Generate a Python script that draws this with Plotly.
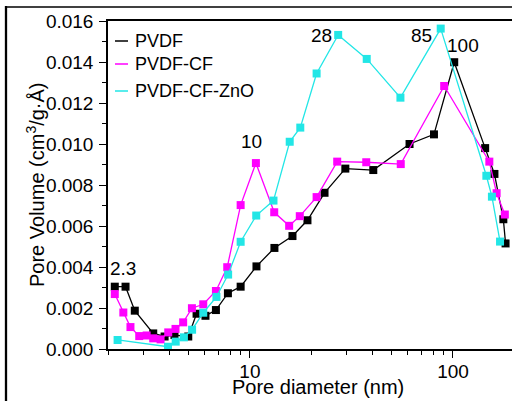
import math
import plotly.graph_objects as go

# ---- data ----
pvdf_d = [2.16, 2.44, 2.71, 3.34, 3.8, 4.25, 4.97, 5.46, 6.04, 6.8, 7.79, 9.0, 10.77, 13.2, 16.2,
          19.2, 23.3, 29.5, 40.5, 61.1, 80.6, 101.4, 144, 160, 177, 181.5]
pvdf_v = [0.00304, 0.00304, 0.00187, 0.00076, 0.00061, 0.00068, 0.00061, 0.00172, 0.00162, 0.00190,
          0.00272, 0.00304, 0.00403, 0.00493, 0.00551, 0.00628, 0.00762, 0.00880, 0.00873, 0.01000,
          0.01047, 0.01399, 0.00980, 0.00854, 0.00633, 0.00515]

cf_d = [2.16, 2.38, 2.58, 2.85, 3.10, 3.34, 3.63, 3.96, 4.30, 4.69, 5.18, 5.89, 6.80, 7.73, 9.0,
        10.7, 13.17, 15.6, 17.6, 21.3, 26.9, 37.4, 55.3, 90.5, 151, 164, 180]
cf_v = [0.00268, 0.00178, 0.00107, 0.00063, 0.00066, 0.00052, 0.00047, 0.00081, 0.00098, 0.00130,
        0.00199, 0.00218, 0.00283, 0.00399, 0.00702, 0.00907, 0.00667, 0.00601, 0.00648, 0.00741,
        0.00914, 0.00911, 0.00902, 0.01283, 0.00914, 0.00760, 0.00656]

zno_d = [2.23, 3.95, 4.31, 4.73, 5.19, 5.89, 6.84, 7.81, 9.0, 10.74, 13.06, 15.7, 17.7, 21.3, 27.2,
         37.6, 55.1, 87.0, 146, 155.5, 170.5]
zno_v = [0.00044, 0.00011, 0.00036, 0.00057, 0.00094, 0.00177, 0.00254, 0.00363, 0.00523, 0.00651,
         0.00724, 0.01011, 0.01080, 0.01344, 0.01532, 0.01415, 0.01226, 0.01563, 0.00845, 0.00743,
         0.00524]

series_names = ["PVDF", "PVDF-CF", "PVDF-CF-ZnO"]
series_colors = ["#000000", "#FF00FF", "#22E6E6"]

peak_labels = ["2.3", "10", "28", "85", "100"]
peak_label_d = [2.37, 10.2, 22.6, 70.3, 112.0]
peak_label_v = [0.00395, 0.01010, 0.01530, 0.01530, 0.01480]

x_tick_vals = [10, 100]
x_tick_text = ["10", "100"]
x_minor_vals = [2, 3, 4, 5, 6, 7, 8, 9, 20, 30, 40, 50, 60, 70, 80, 90, 200]

FONT = "Liberation Sans, Arial, sans-serif"

W, H = 512, 401
ML, MR, MT, MB = 108, 0, 21, 52
PW, PH = W - ML - MR, H - MT - MB


def px(x):
    return (x - ML) / PW


def py(y):
    return (H - MB - y) / PH


fig = go.Figure()
for d, v, name, col in zip([pvdf_d, cf_d, zno_d], [pvdf_v, cf_v, zno_v], series_names, series_colors):
    fig.add_trace(go.Scatter(
        x=d, y=v, mode="lines+markers", name=name,
        line=dict(color=col, width=1.3),
        marker=dict(symbol="square", size=8, color=col, line=dict(width=0)),
        showlegend=False,
    ))

annotations = []
for t, d, v in zip(peak_labels, peak_label_d, peak_label_v):
    annotations.append(dict(x=math.log10(d), y=v, xref="x", yref="y", text=t, showarrow=False,
                            xanchor="center", yanchor="middle",
                            font=dict(family=FONT, size=19, color="#000")))

# manual legend
shapes = []
leg_y = [41, 64, 91]
for name, col, yy in zip(series_names, series_colors, leg_y):
    shapes.append(dict(type="line", xref="paper", yref="paper", x0=px(115), x1=px(128),
                       y0=py(yy), y1=py(yy), line=dict(color=col, width=1.5)))
    annotations.append(dict(x=px(133), y=py(yy), xref="paper", yref="paper", text=name,
                            showarrow=False, xanchor="left", yanchor="middle",
                            font=dict(family=FONT, size=18, color="#000")))

# axis titles
annotations.append(dict(x=px(318), y=py(387), xref="paper", yref="paper",
                        text="Pore diameter (nm)", showarrow=False,
                        xanchor="center", yanchor="middle",
                        font=dict(family=FONT, size=20, color="#000")))
annotations.append(dict(x=px(35), y=py(185), xref="paper", yref="paper",
                        text="Pore Volume (cm<sup>3</sup>/g·Å)", showarrow=False, textangle=-90,
                        xanchor="center", yanchor="middle",
                        font=dict(family=FONT, size=20, color="#000")))

# outer frame
shapes.append(dict(type="line", xref="paper", yref="paper", x0=px(6), x1=px(6),
                   y0=py(6), y1=py(H + 5), line=dict(color="#000", width=2.3)))
shapes.append(dict(type="line", xref="paper", yref="paper", x0=px(5), x1=px(W + 5),
                   y0=py(7), y1=py(7), line=dict(color="#000", width=1.7)))

fig.update_layout(
    width=W, height=H,
    margin=dict(l=ML, r=MR, t=MT, b=MB),
    paper_bgcolor="white", plot_bgcolor="white",
    annotations=annotations, shapes=shapes,
    showlegend=False,
)
fig.update_xaxes(
    type="log", range=[math.log10(2.0), 2.2906],
    tickvals=x_tick_vals, ticktext=x_tick_text,
    ticks="outside", ticklen=7, tickwidth=1.3, tickcolor="#000",
    minor=dict(tickvals=x_minor_vals, ticks="outside", ticklen=4, tickwidth=1.2, tickcolor="#000"),
    showline=True, linecolor="#000", linewidth=1.5, mirror=True,
    showgrid=False, zeroline=False,
    tickfont=dict(family=FONT, size=19, color="#000"),
    ticklabelstandoff=-3,
)
fig.update_yaxes(
    range=[0, 0.016], dtick=0.002, tick0=0, tickformat=".3f",
    ticks="outside", ticklen=7, tickwidth=1.3, tickcolor="#000",
    minor=dict(dtick=0.001, ticks="outside", ticklen=4, tickwidth=1.2, tickcolor="#000"),
    showline=True, linecolor="#000", linewidth=1.5, mirror=False,
    showgrid=False, zeroline=False,
    tickfont=dict(family=FONT, size=19, color="#000"),
    ticklabelstandoff=2,
)

fig.write_html("out.html")
